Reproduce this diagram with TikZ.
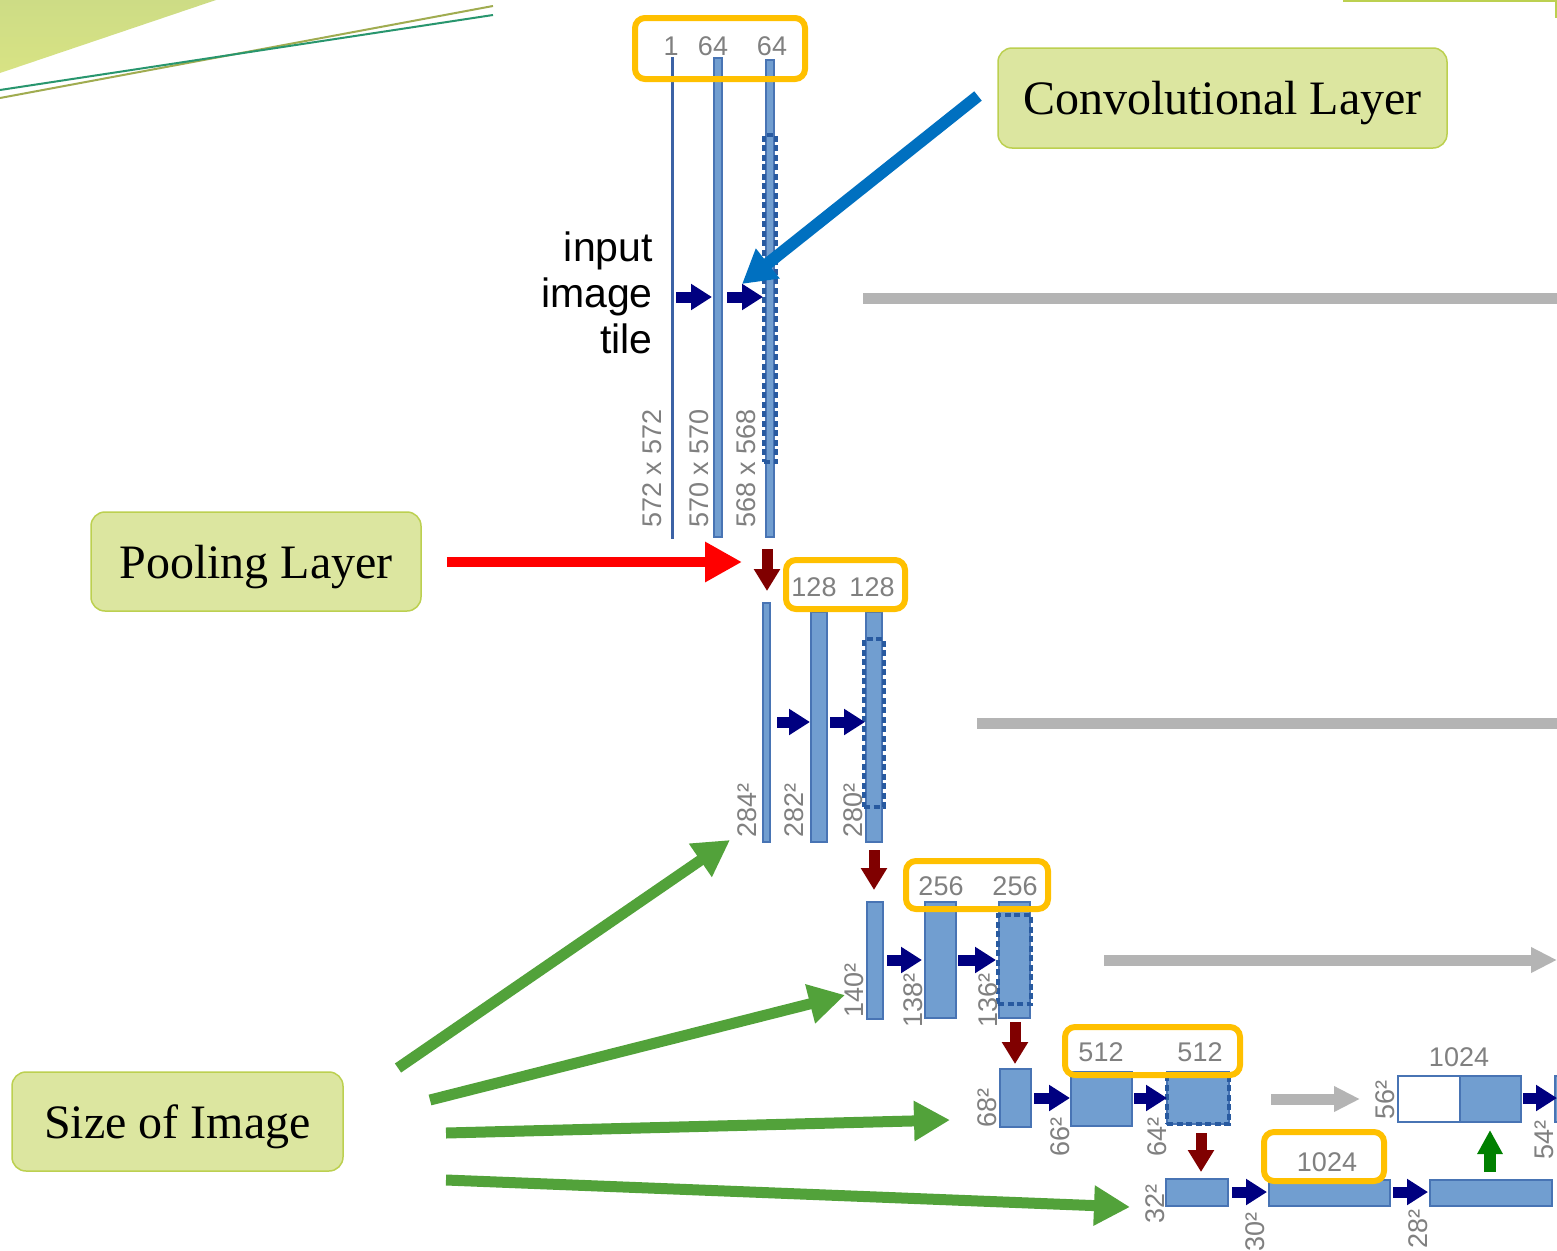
\documentclass[tikz,border=0pt]{standalone}
\usepackage{fontspec}
\setmainfont{Liberation Serif}
\newfontfamily\arialf{Liberation Sans}
\usetikzlibrary{arrows.meta,fit}

\definecolor{barfill}{RGB}{113,158,208}
\definecolor{barline}{RGB}{72,116,180}
\definecolor{inline}{RGB}{60,98,165}
\definecolor{dashc}{RGB}{40,90,160}
\definecolor{navyc}{RGB}{0,0,128}
\definecolor{poolc}{RGB}{128,0,0}
\definecolor{upc}{RGB}{0,128,0}
\definecolor{copyc}{RGB}{180,180,180}
\definecolor{labgray}{RGB}{128,128,128}
\definecolor{yel}{RGB}{255,192,0}
\definecolor{annfill}{RGB}{220,230,160}
\definecolor{annline}{RGB}{188,208,80}
\definecolor{bluec}{RGB}{0,112,192}
\definecolor{redc}{RGB}{255,0,0}
\definecolor{greenc}{RGB}{82,162,58}
\definecolor{decoA}{RGB}{205,220,133}
\definecolor{decoB}{RGB}{216,227,132}
\definecolor{lineA}{RGB}{160,172,80}
\definecolor{lineB}{RGB}{40,150,110}

\tikzset{
  bar/.style={draw=barline, fill=barfill, line width=1.2pt, inner sep=0pt, outer sep=0pt},
  wbar/.style={bar, fill=white},
  inbar/.style={draw=inline, fill=inline, line width=0.6pt, inner sep=0pt, outer sep=0pt},
  dbox/.style={draw=dashc, line width=3.6pt, dash pattern=on 6pt off 3.5pt, inner sep=0pt, outer sep=0pt},
  ybox/.style={draw=yel, line width=6pt, rounded corners=10pt, inner sep=0pt, outer sep=0pt},
  lab/.style={text=labgray, font=\arialf\fontsize{27}{30}\selectfont, inner sep=0pt},
  rlab/.style={lab, rotate=90, anchor=west},
  conv/.style={draw=navyc, line width=11pt, -{Triangle[length=21pt,width=25pt]}},
  pool/.style={draw=poolc, line width=11pt, -{Triangle[length=22pt,width=25pt]}},
  upconv/.style={draw=upc, line width=12pt, -{Triangle[length=24pt,width=24pt]}},
  copyline/.style={draw=copyc, line width=11pt},
  copyarrow/.style={copyline, -{Triangle[length=26pt,width=24pt]}},
  annot/.style={draw=annline, fill=annfill, line width=1.5pt, rounded corners=14pt,
    font=\fontsize{48}{56}\selectfont, inner sep=0pt, text depth=0pt},
  blueann/.style={draw=bluec, line width=12pt, -{Triangle[length=33pt,width=36pt]}},
  redann/.style={draw=redc, line width=10pt, -{Triangle[length=37pt,width=38pt]}},
  greenann/.style={draw=greenc, line width=11pt, -{Triangle[length=36pt,width=38pt]}},
}

\begin{document}
\begin{tikzpicture}[x=1pt,y=-1pt]
\path[use as bounding box] (0,0) rectangle (1557,1250);
\clip (0,0) rectangle (1557,1250);
\fill[white] (0,0) rectangle (1557,1250);

% corner decoration
\shade[top color=decoA, bottom color=decoB] (0,0) -- (216,0) -- (0,73) -- cycle;
\draw[lineA, line width=2pt] (0,98) -- (493,6);
\draw[lineB, line width=2pt] (0,90) -- (493,15);
\draw[annline, line width=1.5pt] (1343,1) -- (1556,1) -- (1556,18);

% level 1
\node[inbar, fit={(671,57)(673,538)}] (in1) {};
\node[bar, fit={(714,58)(722,537)}] (b1) {};
\node[bar, fit={(766,60)(774,537)}] (c1) {};
\node[dbox, fit={(764,135)(776,462)}] (d1) {};

% level 2
\node[bar, fit={(763,603)(770,842)}] (a2) {};
\node[bar, fit={(811,612)(827,842)}] (b2) {};
\node[bar, fit={(866,612)(882,842)}] (c2) {};
\node[dbox, fit={(864,639)(884,807)}] (d2) {};

% level 3
\node[bar, fit={(867,902)(883,1019)}] (a3) {};
\node[bar, fit={(925,902)(956,1018)}] (b3) {};
\node[bar, fit={(999,902)(1030,1018)}] (c3) {};
\node[dbox, fit={(998,915)(1031,1004)}] (d3) {};

% level 4
\node[bar, fit={(1000,1069)(1031,1127)}] (a4) {};
\node[bar, fit={(1071,1072)(1132,1126)}] (b4) {};
\node[bar, fit={(1167,1072)(1229,1124)}] (c4) {};
\node[dbox, fit={(1167,1076)(1229,1124)}] (d4) {};

% level 5
\node[bar, fit={(1166,1179)(1228,1206)}] (a5) {};
\node[bar, fit={(1269,1180)(1390,1206)}] (b5) {};
\node[bar, fit={(1430,1180)(1552,1206)}] (c5) {};

% first expanding level
\node[wbar, fit={(1398,1076)(1460,1122)}] (w4) {};
\node[bar, fit={(1460,1076)(1521,1122)}] (u4) {};
\node[bar, fit={(1555,1076)(1580,1122)}] (n4) {};

% copy and crop connections
\coordinate (cp1) at (1575,298);
\coordinate (cp2) at (1575,723);
\coordinate (cp3) at (1557,960);
\draw[copyline, shorten <=89pt] (c1.east |- 0,298) -- (cp1);
\draw[copyline, shorten <=95pt] (c2.east |- 0,723) -- (cp2);
\draw[copyarrow, shorten <=74pt] (c3.east |- 0,960) -- (cp3);
\draw[copyarrow, shorten <=42pt, shorten >=38pt] (c4.east |- 0,1099) -- (w4.west |- 0,1099);

% convolutions
\draw[conv, shorten <=3pt, shorten >=2pt] (in1.east |- 0,297) -- (b1.west |- 0,297);
\draw[conv, shorten <=5pt, shorten >=3pt] (b1.east |- 0,297) -- (c1.west |- 0,297);
\draw[conv, shorten <=7pt, shorten >=1pt] (a2.east |- 0,722) -- (b2.west |- 0,722);
\draw[conv, shorten <=3pt, shorten >=1pt] (b2.east |- 0,722) -- (c2.west |- 0,722);
\draw[conv, shorten <=4pt, shorten >=3pt] (a3.east |- 0,960) -- (b3.west |- 0,960);
\draw[conv, shorten <=2pt, shorten >=3pt] (b3.east |- 0,960) -- (c3.west |- 0,960);
\draw[conv, shorten <=3pt, shorten >=1pt] (a4.east |- 0,1098) -- (b4.west |- 0,1098);
\draw[conv, shorten <=2pt, shorten >=0pt] (b4.east |- 0,1098) -- (c4.west |- 0,1098);
\draw[conv, shorten <=4pt, shorten >=2pt] (a5.east |- 0,1192) -- (b5.west |- 0,1192);
\draw[conv, shorten <=3pt, shorten >=2pt] (b5.east |- 0,1192) -- (c5.west |- 0,1192);
\draw[conv, shorten <=2pt, shorten >=-2pt] (u4.east |- 0,1098) -- (n4.west |- 0,1098);

% max pooling
\draw[pool, shorten <=12pt, shorten >=12pt] (767,0 |- c1.south) -- (767,0 |- a2.north);
\draw[pool, shorten <=8pt, shorten >=12pt] (874,0 |- c2.south) -- (874,0 |- a3.north);
\draw[pool, shorten <=4pt, shorten >=5pt] (1015,0 |- c3.south) -- (1015,0 |- a4.north);
\draw[pool, shorten <=9pt, shorten >=7pt] (1201,0 |- c4.south) -- (1201,0 |- a5.north);

% up-convolution
\draw[upconv, shorten <=8pt, shorten >=8pt] (1490,0 |- c5.north) -- (1490,0 |- u4.south);

% channel counts
\node[lab] (t1a) at (671,46) {1};
\node[lab] (t1b) at (713,46) {64};
\node[lab] (t1c) at (772,46) {64};
\node[lab] (t2a) at (814,587) {128};
\node[lab] (t2b) at (872,587) {128};
\node[lab] (t3a) at (941,886) {256};
\node[lab] (t3b) at (1015,886) {256};
\node[lab] (t4a) at (1101,1052) {512};
\node[lab] (t4b) at (1200,1052) {512};
\node[lab] (t5a) at (1327,1162) {1024};
\node[lab] (t6a) at (1459,1057) {1024};

% highlight frames
\node[ybox, fit={(635,18)(805,79)}] (y1) {};
\node[ybox, fit={(786,560)(905,609)}] (y2) {};
\node[ybox, fit={(906,861)(1048,909)}] (y3) {};
\node[ybox, fit={(1065,1027)(1240,1075)}] (y4) {};
\node[ybox, fit={(1264,1132)(1384,1181)}] (y5) {};

% feature map sizes
\node[rlab] (s1a) at (652,528) {572 x 572};
\node[rlab] (s1b) at (699,528) {570 x 570};
\node[rlab] (s1c) at (746,528) {568 x 568};
\node[rlab] (s2a) at (747,838) {284²};
\node[rlab] (s2b) at (794,838) {282²};
\node[rlab] (s2c) at (853,838) {280²};
\node[rlab] (s3a) at (854,1018) {140²};
\node[rlab] (s3b) at (913,1028) {138²};
\node[rlab] (s3c) at (988,1028) {136²};
\node[rlab] (s4a) at (987,1128) {68²};
\node[rlab] (s4b) at (1060,1157) {66²};
\node[rlab] (s4c) at (1157,1157) {64²};
\node[rlab] (s5a) at (1155,1224) {32²};
\node[rlab] (s5b) at (1255,1252) {30²};
\node[rlab] (s5c) at (1418,1249) {28²};
\node[rlab] (s6a) at (1385,1120) {56²};
\node[rlab] (s6b) at (1544,1160) {54²};

\node[align=right, anchor=east, inner sep=0pt,
  font=\arialf\fontsize{41}{46}\selectfont] (tile) at (653,293) {input\\image\\tile};

% explanatory callouts
\node[annot, minimum width=449pt, minimum height=100pt] (conv) at (1222.5,98) {Convolutional Layer};
\node[annot, minimum width=330pt, minimum height=99pt] (pooling) at (256,561.5) {Pooling Layer};
\node[annot, minimum width=331pt, minimum height=99pt] (size) at (177.5,1121.5) {Size of Image};

\coordinate (bs) at (978,96);
\coordinate (bt) at (742,284);
\draw[blueann] (bs) -- (bt);

\coordinate (rt) at (742,562);
\draw[redann, shorten <=25pt] (pooling.east |- rt) -- (rt);

\coordinate (g1s) at (398,1068);
\coordinate (g1t) at (730,840);
\coordinate (g2s) at (430,1100);
\coordinate (g2t) at (845,995);
\coordinate (g3s) at (446,1133);
\coordinate (g3t) at (950,1120);
\coordinate (g4s) at (446,1180);
\coordinate (g4t) at (1130,1207);
\draw[greenann] (g1s) -- (g1t);
\draw[greenann] (g2s) -- (g2t);
\draw[greenann] (g3s) -- (g3t);
\draw[greenann] (g4s) -- (g4t);
\end{tikzpicture}
\end{document}
